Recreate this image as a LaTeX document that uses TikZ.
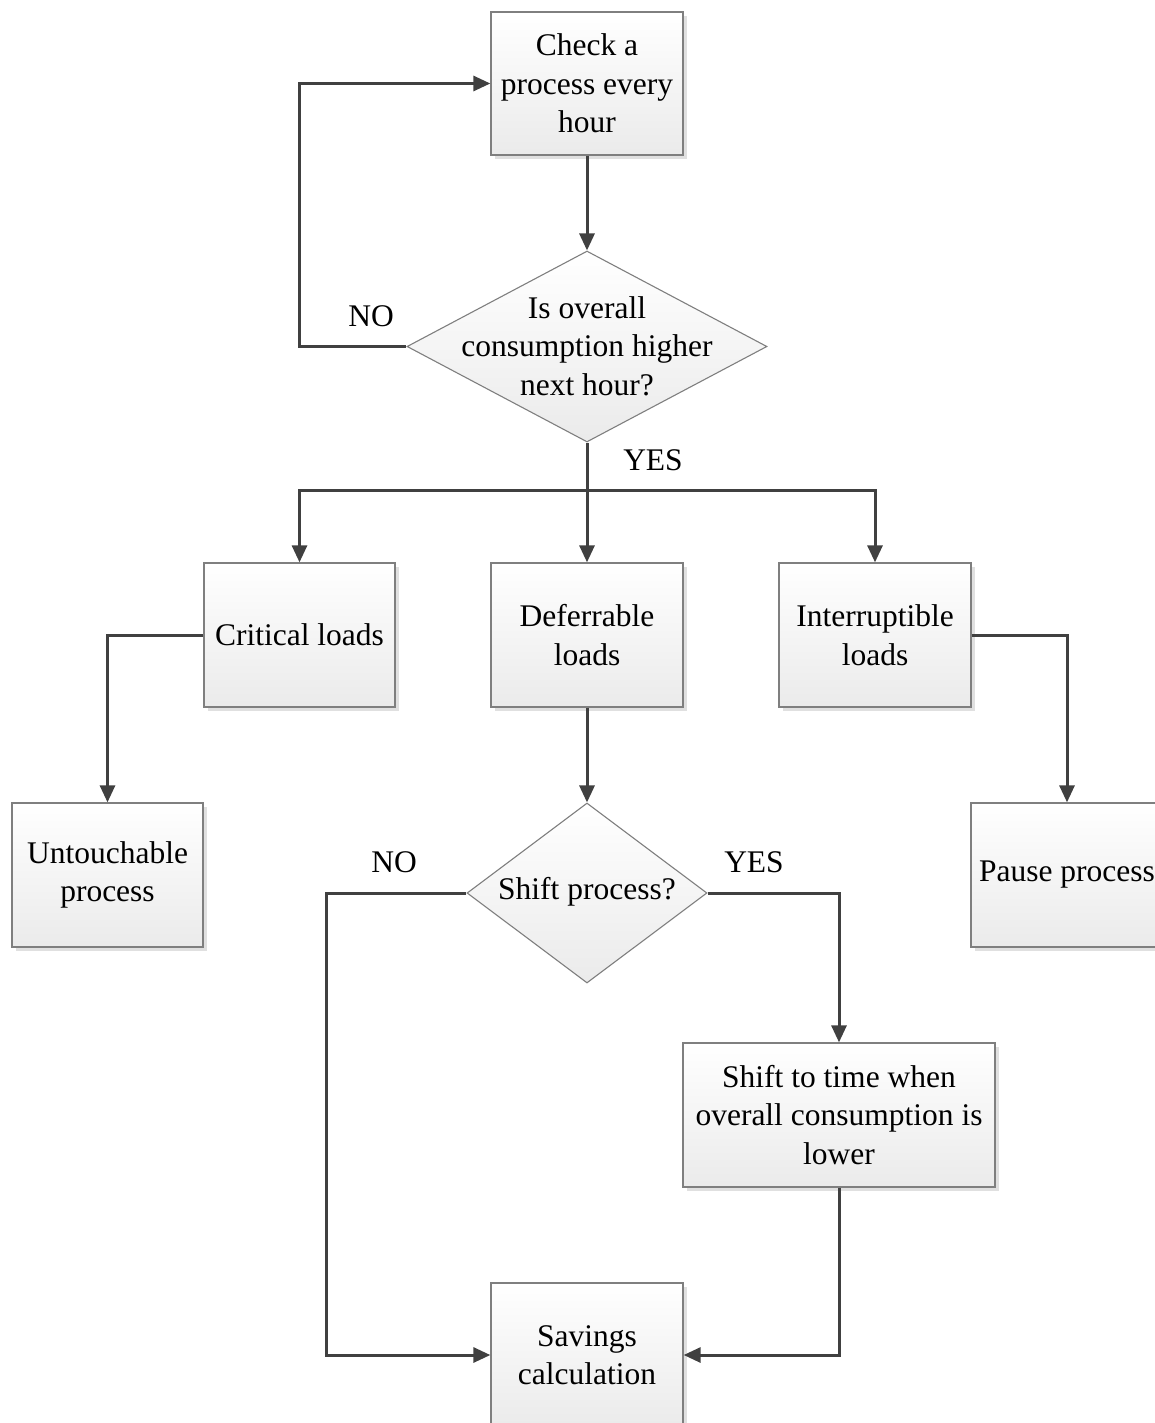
\documentclass[tikz,border=0pt]{standalone}
\usepackage{fontspec}
\setmainfont{Liberation Serif}
\usetikzlibrary{arrows.meta,shapes.geometric,shadows}
\definecolor{linec}{HTML}{404040}
\definecolor{bordc}{HTML}{7F7F7F}
\begin{document}
\begin{tikzpicture}[x=1pt,y=-1pt,
  every node/.style={font=\fontsize{31.5}{38.5}\selectfont, text=black},
  procbox/.style={rectangle, draw=bordc, line width=1.3pt, top color=white, bottom color=black!8,
    inner sep=0pt, align=center,
    drop shadow={shadow xshift=4pt, shadow yshift=-4pt, fill=black!12, opacity=1}},
  decbox/.style={diamond, draw=bordc, line width=1.1pt, top color=white, bottom color=black!8, inner sep=0pt},
  conn/.style={draw=linec, line width=3pt},
  arr/.style={conn, -{Triangle[length=17pt,width=15pt]}},
  lbl/.style={inner sep=0pt}
]
\useasboundingbox (0,0) rectangle (1154,1423);

% boxes
\node[procbox, minimum width=192pt, minimum height=143pt] (check) at (587,83.5) {Check a\\process every\\hour};
\node[decbox, minimum width=360pt, minimum height=191pt] (d1) at (587,346.5) {};
\node[align=center, inner sep=0pt] (d1t) at (587,346) {Is overall\\consumption higher\\next hour?};

\node[procbox, minimum width=191pt, minimum height=144pt] (crit) at (299.5,635) {Critical loads};
\node[procbox, minimum width=192pt, minimum height=144pt] (defer) at (587,635) {Deferrable\\loads};
\node[procbox, minimum width=192pt, minimum height=144pt] (inter) at (875,635) {Interruptible\\loads};

\node[procbox, minimum width=191pt, minimum height=144pt] (untouch) at (107.5,875) {Untouchable\\process};
\node[procbox, minimum width=192pt, minimum height=144pt] (pause) at (1067,875) {Pause process};

\node[decbox, minimum width=240pt, minimum height=180pt] (d2) at (587,893) {};
\node[inner sep=0pt] (d2t) at (587,892) {Shift process?};

\node[procbox, minimum width=312pt, minimum height=144pt] (shift) at (839,1115) {Shift to time when\\overall consumption is\\lower};
\node[procbox, minimum width=192pt, minimum height=144pt] (save) at (587,1355) {Savings\\calculation};

% connectors
\draw[arr] (check.south) -- (d1.north);
\draw[arr] (d1.west) -- (299,346.5) -- (299,83.5) -- (check.west);
\node[lbl] (no1) at (371,316) {NO};

\coordinate (split) at (587,490);
\draw[conn] (d1.south) -- (split);
\draw[arr] (split) -- (defer.north);
\draw[arr] (split) -| (crit.north);
\draw[arr] (split) -| (inter.north);
\node[lbl] (yes1) at (653,460) {YES};

\draw[arr] (crit.west) -| (untouch.north);
\draw[arr] (inter.east) -| (pause.north);

\draw[arr] (defer.south) -- (d2.north);
\draw[arr] (d2.west) -- (326,893) |- (save.west);
\node[lbl] (no2) at (394,862) {NO};
\draw[arr] (d2.east) -| (shift.north);
\node[lbl] (yes2) at (754,862) {YES};
\draw[arr] (shift.south) |- (save.east);
\end{tikzpicture}
\end{document}
